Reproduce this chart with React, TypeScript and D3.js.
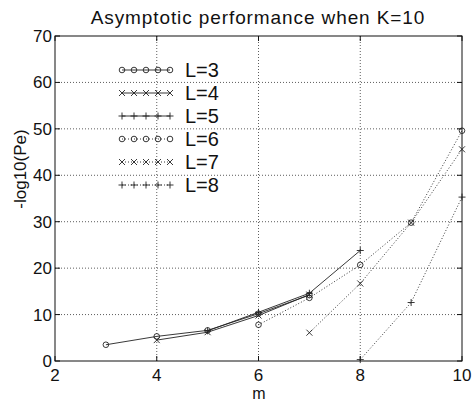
import { useRef, useEffect } from 'react'
import * as d3 from 'd3'

const X_TICKS = [2, 4, 6, 8, 10]
const Y_TICKS = [0, 10, 20, 30, 40, 50, 60, 70]

const L3_M = [3, 4, 5, 6, 7]
const L3_V = [3.5, 5.3, 6.6, 10.2, 14.2]
const L4_M = [4, 5, 6, 7]
const L4_V = [4.5, 6.2, 9.8, 14.3]
const L5_M = [5, 6, 7, 8]
const L5_V = [6.5, 10.5, 14.6, 23.8]
const L6_M = [6, 7, 8, 9, 10]
const L6_V = [7.8, 13.6, 20.7, 29.8, 49.6]
const L7_M = [7, 8, 9, 10]
const L7_V = [6.1, 16.7, 29.8, 45.6]
const L8_M = [8, 9, 10]
const L8_V = [0.3, 12.6, 35.3]

const SERIES = [
  { name: 'L=3', m: L3_M, v: L3_V, marker: 'o', dash: false },
  { name: 'L=4', m: L4_M, v: L4_V, marker: 'x', dash: false },
  { name: 'L=5', m: L5_M, v: L5_V, marker: '+', dash: false },
  { name: 'L=6', m: L6_M, v: L6_V, marker: 'o', dash: true },
  { name: 'L=7', m: L7_M, v: L7_V, marker: 'x', dash: true },
  { name: 'L=8', m: L8_M, v: L8_V, marker: '+', dash: true },
]

const FONT = "'Liberation Sans', Arial, sans-serif"

function drawMarker(g: any, kind: string, x: number, y: number) {
  if (kind === 'o') {
    g.append('circle').attr('cx', x).attr('cy', y).attr('r', 2.8)
      .attr('fill', 'none').attr('stroke', '#222').attr('stroke-width', 0.9)
  } else if (kind === 'x') {
    const s = 3
    g.append('path').attr('d', `M${x - s},${y - s}L${x + s},${y + s}M${x - s},${y + s}L${x + s},${y - s}`)
      .attr('stroke', '#222').attr('stroke-width', 0.9)
  } else {
    const s = 3.5
    g.append('path').attr('d', `M${x - s},${y}L${x + s},${y}M${x},${y - s}L${x},${y + s}`)
      .attr('stroke', '#222').attr('stroke-width', 0.9)
  }
}

export default function App() {
  const svgRef = useRef<SVGSVGElement>(null)

  useEffect(() => {
    document.body.style.margin = '0'
    const svg = d3.select(svgRef.current)
    svg.selectAll('*').remove()
    const W = 475, H = 404
    const margin = { top: 36, right: 13, bottom: 43, left: 55 }
    const iW = W - margin.left - margin.right
    const iH = H - margin.top - margin.bottom

    svg.append('rect').attr('width', W).attr('height', H).attr('fill', '#fff')

    const x = d3.scaleLinear().domain([2, 10]).range([0, iW])
    const y = d3.scaleLinear().domain([0, 70]).range([iH, 0])
    const g = svg.append('g').attr('transform', `translate(${margin.left},${margin.top})`)

    // grid
    X_TICKS.slice(1, -1).forEach((t) => {
      g.append('line').attr('x1', x(t)).attr('x2', x(t)).attr('y1', 0).attr('y2', iH)
        .attr('stroke', '#333').attr('stroke-width', 0.8).attr('stroke-dasharray', '1,2')
    })
    Y_TICKS.slice(1, -1).forEach((t) => {
      g.append('line').attr('x1', 0).attr('x2', iW).attr('y1', y(t)).attr('y2', y(t))
        .attr('stroke', '#333').attr('stroke-width', 0.8).attr('stroke-dasharray', '1,2')
    })

    // box
    g.append('rect').attr('width', iW).attr('height', iH)
      .attr('fill', 'none').attr('stroke', '#111').attr('stroke-width', 1)

    // ticks
    X_TICKS.forEach((t) => {
      g.append('line').attr('x1', x(t)).attr('x2', x(t)).attr('y1', iH).attr('y2', iH - 5).attr('stroke', '#111')
      g.append('line').attr('x1', x(t)).attr('x2', x(t)).attr('y1', 0).attr('y2', 5).attr('stroke', '#111')
      g.append('text').attr('x', x(t)).attr('y', iH + 20).attr('text-anchor', 'middle')
        .attr('font-family', FONT).attr('font-size', 17).attr('fill', '#111').text(t)
    })
    Y_TICKS.forEach((t) => {
      g.append('line').attr('x1', 0).attr('x2', 5).attr('y1', y(t)).attr('y2', y(t)).attr('stroke', '#111')
      g.append('line').attr('x1', iW).attr('x2', iW - 5).attr('y1', y(t)).attr('y2', y(t)).attr('stroke', '#111')
      g.append('text').attr('x', -3).attr('y', y(t)).attr('dy', '0.35em').attr('text-anchor', 'end')
        .attr('font-family', FONT).attr('font-size', 17).attr('fill', '#111').text(t)
    })

    // series
    SERIES.forEach((s) => {
      const pts = s.m.map((m, i) => [x(m), y(s.v[i])] as [number, number])
      g.append('path').attr('d', d3.line()(pts)).attr('fill', 'none')
        .attr('stroke', '#222').attr('stroke-width', 0.9)
        .attr('stroke-dasharray', s.dash ? '1,2' : null)
      pts.forEach((p) => drawMarker(g, s.marker, p[0], p[1]))
    })

    // legend
    const lx0 = 122 - margin.left, lx1 = 170 - margin.left
    SERIES.forEach((s, i) => {
      const ly = 70 + i * 23 - margin.top
      g.append('line').attr('x1', lx0).attr('x2', lx1).attr('y1', ly).attr('y2', ly)
        .attr('stroke', '#222').attr('stroke-width', 0.9)
        .attr('stroke-dasharray', s.dash ? '1,2' : null)
      d3.range(5).forEach((k) => drawMarker(g, s.marker, lx0 + k * (lx1 - lx0) / 4, ly))
      g.append('text').attr('x', 185 - margin.left).attr('y', ly).attr('dy', '0.36em')
        .attr('font-family', FONT).attr('font-size', 20).attr('fill', '#111').text(s.name)
    })

    // labels
    svg.append('text').attr('x', 258).attr('y', 24).attr('text-anchor', 'middle')
      .attr('font-family', FONT).attr('font-size', 19).attr('letter-spacing', 0.9).attr('fill', '#111')
      .text('Asymptotic performance when K=10')
    svg.append('text').attr('x', 259).attr('y', 399).attr('text-anchor', 'middle')
      .attr('font-family', FONT).attr('font-size', 16).attr('fill', '#111').text('m')
    svg.append('text').attr('transform', `translate(26,169) rotate(-90)`)
      .attr('text-anchor', 'middle')
      .attr('font-family', FONT).attr('font-size', 17).attr('fill', '#111').text('-log10(Pe)')
  }, [])

  return <svg ref={svgRef} width={475} height={404} style={{ display: 'block' }} />
}
